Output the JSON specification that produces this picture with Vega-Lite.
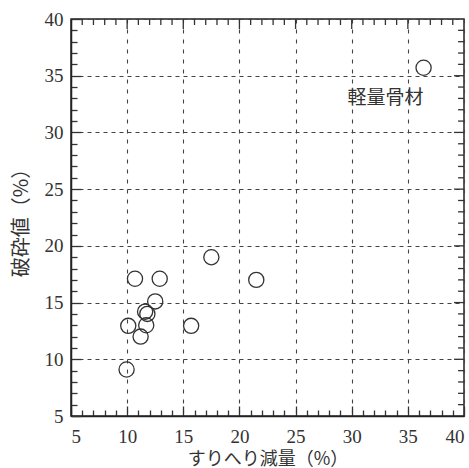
{
  "$schema": "https://vega.github.io/schema/vega-lite/v6.json",
  "autosize": "none",
  "padding": {"left": 71, "top": 19, "right": 5, "bottom": 52},
  "width": 393,
  "height": 397,
  "config": {
    "view": {"stroke": "#222", "strokeWidth": 1.5},
    "axis": {"labelFont": "Liberation Serif", "labelFontSize": 19, "labelColor": "#333", "titleFont": "Noto Sans CJK JP", "titleFontSize": 19, "titleFontWeight": "normal", "titleColor": "#333", "tickColor": "#333", "tickWidth": 1.3, "gridColor": "#444", "gridWidth": 1.1, "domainColor": "#222", "domainWidth": 1.5}
  },
  "datasets": {
    "points": [
      {"x": 10.7, "y": 17.1},
      {"x": 12.9, "y": 17.1},
      {"x": 12.5, "y": 15.1},
      {"x": 11.6, "y": 14.2},
      {"x": 11.8, "y": 14.0},
      {"x": 11.7, "y": 13.0},
      {"x": 10.1, "y": 12.95},
      {"x": 11.2, "y": 12.0},
      {"x": 9.95, "y": 9.1},
      {"x": 15.7, "y": 12.95},
      {"x": 17.5, "y": 19.0},
      {"x": 21.5, "y": 17.0},
      {"x": 36.4, "y": 35.7}
    ],
    "major": [{"t": 10}, {"t": 15}, {"t": 20}, {"t": 25}, {"t": 30}, {"t": 35}],
    "minor": [{"t": 6}, {"t": 7}, {"t": 8}, {"t": 9}, {"t": 11}, {"t": 12}, {"t": 13}, {"t": 14}, {"t": 16}, {"t": 17}, {"t": 18}, {"t": 19}, {"t": 21}, {"t": 22}, {"t": 23}, {"t": 24}, {"t": 26}, {"t": 27}, {"t": 28}, {"t": 29}, {"t": 31}, {"t": 32}, {"t": 33}, {"t": 34}, {"t": 36}, {"t": 37}, {"t": 38}, {"t": 39}],
    "label": [{"x": 33.0, "y": 33.0, "label": "軽量骨材"}]
  },
  "resolve": {"axis": {"x": "independent", "y": "independent"}},
  "layer": [
    {
      "data": {"name": "points"},
      "mark": {"type": "point", "shape": "circle", "size": 230, "filled": false, "stroke": "#333", "strokeWidth": 1.3, "opacity": 1},
      "encoding": {
        "x": {"field": "x", "type": "quantitative", "scale": {"domain": [5, 40], "nice": false, "zero": false},
          "axis": {"orient": "bottom", "values": [5, 6, 7, 8, 9, 10, 11, 12, 13, 14, 15, 16, 17, 18, 19, 20, 21, 22, 23, 24, 25, 26, 27, 28, 29, 30, 31, 32, 33, 34, 35, 36, 37, 38, 39, 40],
            "labelExpr": "datum.value % 5 === 0 ? datum.label : ''",
            "tickSize": {"condition": {"test": "datum.value % 5 === 0", "value": -10}, "value": -6},
            "gridOpacity": {"condition": {"test": "datum.value % 5 === 0", "value": 1}, "value": 0},
            "labelPadding": 21, "grid": true, "gridDash": [4, 6], "title": "すりへり減量（%）", "titleFontSize": 18, "titlePadding": 4}},
        "y": {"field": "y", "type": "quantitative", "scale": {"domain": [5, 40], "nice": false, "zero": false},
          "axis": {"orient": "left", "values": [5, 6, 7, 8, 9, 10, 11, 12, 13, 14, 15, 16, 17, 18, 19, 20, 21, 22, 23, 24, 25, 26, 27, 28, 29, 30, 31, 32, 33, 34, 35, 36, 37, 38, 39, 40],
            "labelExpr": "datum.value % 5 === 0 ? datum.label : ''",
            "tickSize": {"condition": {"test": "datum.value % 5 === 0", "value": -10}, "value": -6},
            "gridOpacity": {"condition": {"test": "datum.value % 5 === 0", "value": 1}, "value": 0},
            "labelPadding": 18, "grid": true, "gridDash": [4, 4], "title": "破砕値（%）", "titleFontSize": 20, "titlePadding": 13}}
      }
    },
    {
      "data": {"name": "major"},
      "mark": {"type": "rule", "stroke": "#333", "strokeWidth": 1.3},
      "encoding": {
        "x": {"field": "t", "type": "quantitative", "axis": null},
        "y": {"datum": 40, "type": "quantitative", "axis": null},
        "y2": {"datum": 39.12}
      }
    },
    {
      "data": {"name": "minor"},
      "mark": {"type": "rule", "stroke": "#333", "strokeWidth": 1.3},
      "encoding": {
        "x": {"field": "t", "type": "quantitative", "axis": null},
        "y": {"datum": 40, "type": "quantitative", "axis": null},
        "y2": {"datum": 39.47}
      }
    },
    {
      "data": {"name": "major"},
      "mark": {"type": "rule", "stroke": "#333", "strokeWidth": 1.3},
      "encoding": {
        "y": {"field": "t", "type": "quantitative", "axis": null},
        "x": {"datum": 40, "type": "quantitative", "axis": null},
        "x2": {"datum": 39.11}
      }
    },
    {
      "data": {"name": "minor"},
      "mark": {"type": "rule", "stroke": "#333", "strokeWidth": 1.3},
      "encoding": {
        "y": {"field": "t", "type": "quantitative", "axis": null},
        "x": {"datum": 40, "type": "quantitative", "axis": null},
        "x2": {"datum": 39.47}
      }
    },
    {
      "data": {"name": "label"},
      "mark": {"type": "text", "font": "Noto Sans CJK JP", "fontSize": 19, "color": "#333", "align": "center", "baseline": "middle"},
      "encoding": {
        "x": {"field": "x", "type": "quantitative", "axis": null},
        "y": {"field": "y", "type": "quantitative", "axis": null},
        "text": {"field": "label", "type": "nominal"}
      }
    }
  ]
}
